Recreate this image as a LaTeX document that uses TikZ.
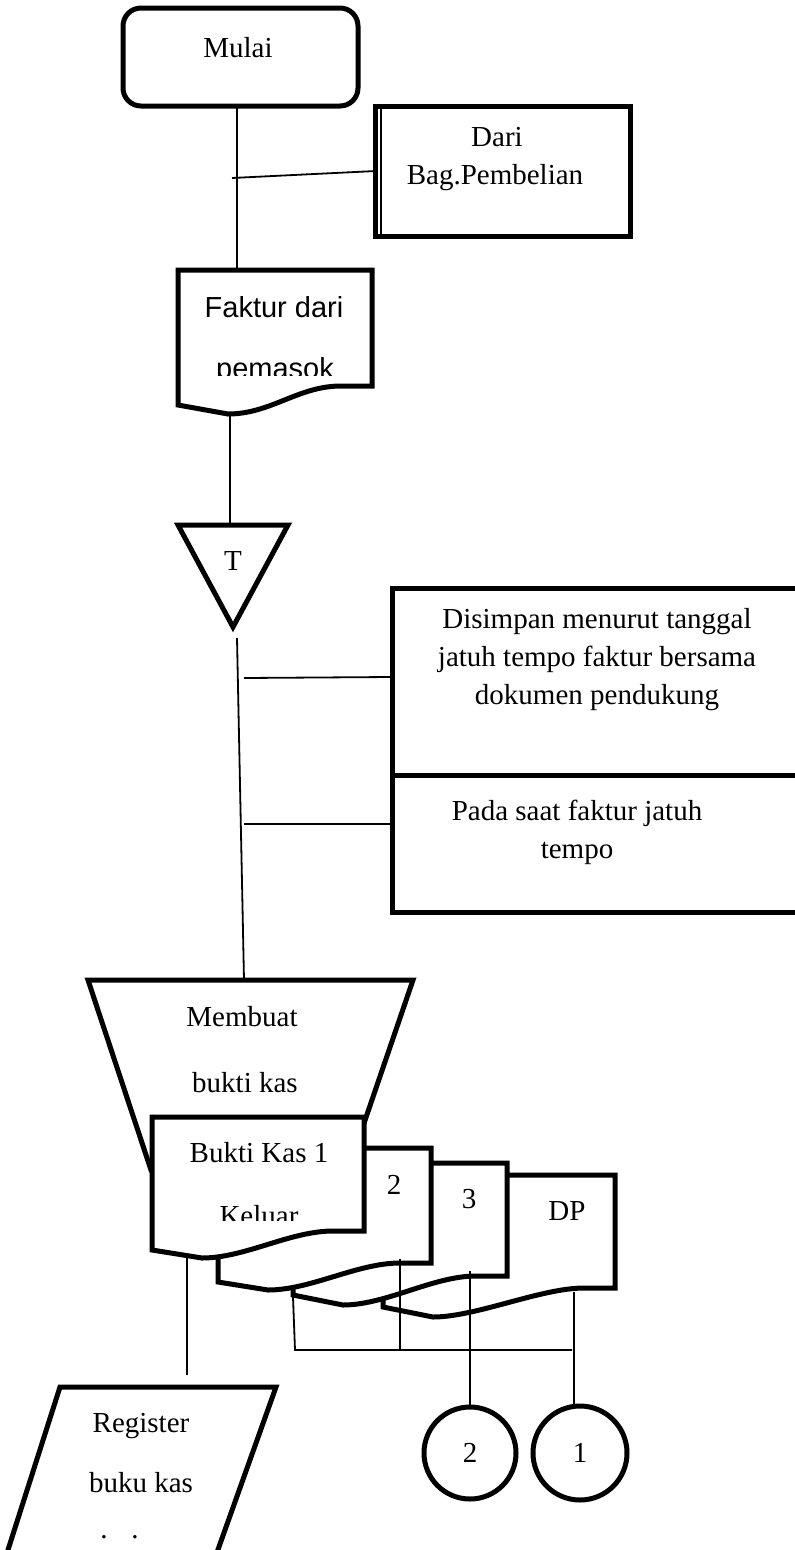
\documentclass[tikz,border=0pt]{standalone}
\usepackage{fontspec}
\setmainfont{Liberation Serif}
\newfontfamily\arialfam{Liberation Sans}

% Document symbol with a wavy bottom edge.
% #1 style, #2 left x, #3 top y, #4 right x, #5 right-bottom y, #6 left-bottom y, #7 trough y
\newcommand{\docsymbol}[7]{%
  \draw[#1] (#2,#3) -- (#4,#3) -- (#4,#5) -- ({#4-31},#5)
    .. controls ({#4-74},#5) and ({#2+93},#7) .. ({#2+50},#7)
    -- (#2,#6) -- cycle;}

\begin{document}
\begin{tikzpicture}[x=1pt,y=-1pt,
  heavy/.style={line width=5pt},
  wire/.style={line width=1.8pt},
  txt/.style={font=\fontsize{29}{38}\selectfont, inner sep=0pt, anchor=base},
  sanstxt/.style={font=\arialfam\fontsize{29}{38}\selectfont, inner sep=0pt, anchor=base},
  glyph/.style={font=\fontsize{29}{38}\selectfont, inner sep=0pt},
  docfill/.style={heavy, fill=white}]

\useasboundingbox (0,0) rectangle (795,1550);
\fill[white] (0,0) rectangle (795,1550);

% ---------- start terminal ----------
\node[draw, heavy, rounded corners=18pt, minimum width=235pt, minimum height=98pt, inner sep=0pt] (mulai) at (240.5,57) {};
\node[txt] (mulai-t) at (238,57) {Mulai};

% ---------- source box ----------
\node[draw, heavy, minimum width=254.5pt, minimum height=130.5pt, inner sep=0pt] (dari) at (502.75,171.25) {};
\draw[line width=2pt] ([xshift=7.5pt]dari.north west) -- ([xshift=7.5pt]dari.south west);
\node[txt] (dari-t1) at (497,146) {Dari};
\node[txt] (dari-t2) at (495,184) {Bag.Pembelian};

% ---------- invoice document ----------
\docsymbol{docfill}{178}{270}{372}{386}{405}{414}
\node[sanstxt] (faktur-t1) at (274,317) {Faktur dari};
\begin{scope}
  \clip (181,330) rectangle (369,375);
  \node[sanstxt] (faktur-t2) at (275,378) {pemasok};
\end{scope}

% ---------- file (T) ----------
\coordinate (tri-l) at (178,525);
\coordinate (tri-r) at (288,525);
\coordinate (tri-b) at (233,627);
\draw[heavy] (tri-l) -- (tri-r) -- (tri-b) -- cycle;
\node[glyph] (tri-t) at (233,561) {T};

% ---------- note boxes ----------
\draw[heavy] (392,588) rectangle (797.5,912);
\draw[heavy] (392,775) -- (797.5,775);
\node[txt] (note1-a) at (597,628) {Disimpan menurut tanggal};
\node[txt] (note1-b) at (597,666) {jatuh tempo faktur bersama};
\node[txt] (note1-c) at (597,704) {dokumen pendukung};
\node[txt] (note2-a) at (577,820) {Pada saat faktur jatuh};
\node[txt] (note2-b) at (577,858) {tempo};

% ---------- manual operation ----------
\draw[heavy] (88,980) -- (413,980) -- (348,1170) -- (151,1170) -- cycle;
\node[txt] (op-t1) at (242,1026) {Membuat};
\node[txt] (op-t2) at (245,1092) {bukti kas};

% ---------- voucher copies (back to front) ----------
\docsymbol{docfill}{383}{1175}{615}{1288}{1307}{1317}
\node[glyph] (dp-t) at (567,1211) {DP};
\docsymbol{docfill}{293}{1163}{507}{1276}{1295}{1305}
\node[glyph] (c3-t) at (469,1199) {3};
\docsymbol{docfill}{218}{1148}{431}{1263}{1282}{1290}
\node[glyph] (c2-t) at (394,1185) {2};
\docsymbol{docfill}{152}{1117}{364}{1231}{1250}{1258}
\node[txt] (bk-t1) at (259,1162) {Bukti Kas 1};
\begin{scope}
  \clip (155,1180) rectangle (361,1220);
  \node[txt] (bk-t2) at (259,1225) {Keluar};
\end{scope}

% ---------- register (manual input) ----------
\draw[heavy] (-8,1600) -- (60,1387) -- (276,1387) -- (200,1600);
\node[txt] (reg-t1) at (141,1432) {Register};
\node[txt] (reg-t2) at (141,1492) {buku kas};
\node[txt] (reg-t3) at (119.5,1538.5) {.\hspace{24pt}.};

% ---------- off-page connectors ----------
\node[draw, heavy, circle, minimum size=92pt, inner sep=0pt, font=\fontsize{29}{38}\selectfont] (off2) at (470,1453) {2};
\node[draw, heavy, circle, minimum size=94pt, inner sep=0pt, font=\fontsize{29}{38}\selectfont] (off1) at (580,1453) {1};

% ---------- flow lines ----------
\coordinate (mulai-out) at (237,106);
\coordinate (faktur-in) at (237,270);
\coordinate (dari-tap) at (232,178);
\coordinate (dari-in) at (376,171);
\coordinate (faktur-out) at (230,414);
\coordinate (tri-in) at (230,525);
\coordinate (tri-out) at (237,638);
\coordinate (op-in) at (244,980);
\coordinate (note1-tap) at (244,678);
\coordinate (note1-in) at (390,677);
\coordinate (note2-tap) at (244,824);
\coordinate (note2-in) at (392,824);
\coordinate (bk-out) at (187,1255);
\coordinate (reg-in) at (187,1375);
\coordinate (c3-out) at (293,1297);
\coordinate (bus-l) at (295,1350);
\coordinate (bus-r) at (572,1350);
\coordinate (c2-out) at (400,1259);
\coordinate (c2-bus) at (400,1350);
\coordinate (c3-line) at (470,1271);
\coordinate (dp-out) at (574,1292);
\coordinate (off1-in) at (574,1406);

\draw[wire] (mulai-out) -- (faktur-in);
\draw[wire] (dari-tap) -- (dari-in);
\draw[wire] (faktur-out) -- (tri-in);
\draw[wire] (tri-out) -- (op-in);
\draw[wire] (note1-tap) -- (note1-in);
\draw[wire] (note2-tap) -- (note2-in);
\draw[wire] (bk-out) -- (reg-in);
\draw[wire] (c3-out) -- (bus-l) -- (bus-r);
\draw[wire] (c2-out) -- (c2-bus);
\draw[wire] (c3-line) -- (off2.north);
\draw[wire] (dp-out) -- (off1-in);

\end{tikzpicture}
\end{document}
